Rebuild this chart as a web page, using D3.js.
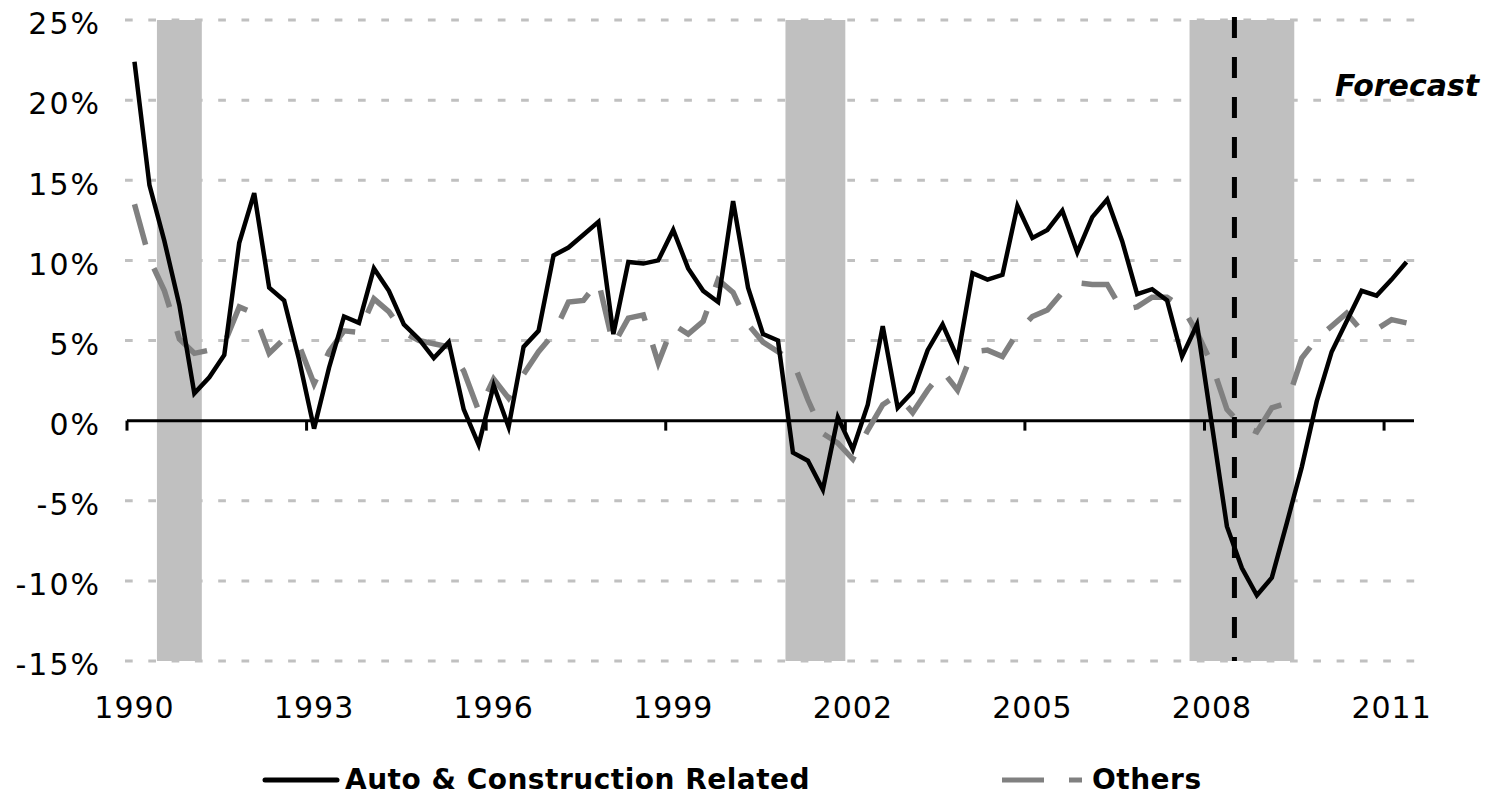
<!DOCTYPE html>
<html>
<head>
<meta charset="utf-8">
<script src="https://cdn.jsdelivr.net/npm/d3@7"></script>
<style>
  body { margin: 0; background: #fff; }
  svg { display: block; }
  text { font-family: "DejaVu Sans", sans-serif; fill: #000; }
</style>
</head>
<body>
<svg id="chart" width="1510" height="796"></svg>
<script>
// ---------------- data ----------------
const startYear = 1990;
const quarterCount = 86; // 1990Q1 .. 2011Q2
const quarters = d3.range(quarterCount).map(i => `${startYear + Math.floor(i / 4)}Q${(i % 4) + 1}`);

const autoConstruction = [
  22.4, 14.7, 11.2, 7.2,
  1.7, 2.7, 4.1, 11.1,
  14.2, 8.3, 7.5, 3.8,
  -0.5, 3.3, 6.5, 6.1,
  9.5, 8.1, 6.0, 5.1,
  3.9, 4.9, 0.7, -1.5,
  2.2, -0.4, 4.6, 5.6,
  10.3, 10.8, 11.6, 12.4,
  5.4, 9.9, 9.8, 10.0,
  11.9, 9.5, 8.1, 7.4,
  13.7, 8.3, 5.4, 5.0,
  -2.0, -2.5, -4.3, 0.2,
  -1.8, 1.0, 5.9, 0.8,
  1.8, 4.4, 6.0, 3.9,
  9.2, 8.8, 9.1, 13.4,
  11.4, 11.9, 13.1, 10.5,
  12.7, 13.8, 11.2, 7.9,
  8.2, 7.5, 4.0, 6.0,
  -0.3, -6.6, -9.2, -10.9,
  -9.8, -6.4, -2.9, 1.2,
  4.3, 6.2, 8.1, 7.8,
  8.8, 9.9
];

const others = [
  13.5, 10.1, 8.1, 5.1,
  4.2, 4.4, 4.8, 7.1,
  6.7, 4.2, 5.1, 4.7,
  2.3, 4.3, 5.6, 5.5,
  7.6, 6.8, 5.5, 5.0,
  4.8, 4.6, 3.1, 0.6,
  2.6, 1.4, 2.9, 4.3,
  5.4, 7.4, 7.5, 8.7,
  4.7, 6.4, 6.6, 3.6,
  6.0, 5.4, 6.2, 8.8,
  8.0, 6.0, 4.9, 4.3,
  3.7, 1.3, -0.8, -1.4,
  -2.4, -0.6, 1.0, 1.6,
  0.5, 1.9, 3.1, 1.9,
  4.3, 4.4, 4.0, 5.5,
  6.5, 6.9, 8.0, 8.6,
  8.5, 8.5, 6.9, 7.1,
  7.7, 7.7, 7.1, 5.5,
  3.5, 0.7, -0.3, -0.7,
  0.8, 1.1, 3.9, 5.1,
  5.9, 6.7, 5.6, 5.7,
  6.3, 6.1
];

const seriesNames = ["Auto & Construction Related", "Others"];
const yTicks = [-15, -10, -5, 0, 5, 10, 15, 20, 25];
const xTickYears = [1990, 1993, 1996, 1999, 2002, 2005, 2008, 2011];
const recessions = [["1990Q3", "1991Q1"], ["2001Q1", "2001Q4"], ["2007Q4", "2009Q2"]];
const forecastStart = "2008Q3";
const forecastLabel = "Forecast";

// ---------------- chart ----------------
const svg = d3.select("#chart");
const plotLeft = 127, plotRight = 1414, plotTop = 20, plotBottom = 661;

const x = d3.scaleBand().domain(quarters).range([plotLeft, plotRight]).padding(0);
const y = d3.scaleLinear().domain([-15, 25]).range([plotBottom, plotTop]);
const cx = q => x(q) + x.bandwidth() / 2;

// gridlines
svg.append("g").selectAll("line")
  .data(yTicks.filter(v => v !== 0))
  .join("line")
  .attr("x1", 125).attr("x2", 1415)
  .attr("y1", d => y(d)).attr("y2", d => y(d))
  .attr("stroke", "#c0c0c0")
  .attr("stroke-width", 3)
  .attr("stroke-dasharray", "7.7,15.6");

// recession shading
svg.append("g").selectAll("rect")
  .data(recessions)
  .join("rect")
  .attr("x", d => x(d[0]))
  .attr("width", d => x(d[1]) + x.bandwidth() - x(d[0]))
  .attr("y", y(25))
  .attr("height", y(-15) - y(25))
  .attr("fill", "#c0c0c0");

// y axis labels
const yAxis = d3.axisLeft(y).tickValues(yTicks).tickFormat(d => d + "%").tickSize(0).tickPadding(0);
const gy = svg.append("g").attr("transform", "translate(101,0)").call(yAxis);
gy.select(".domain").remove();
gy.selectAll("text").attr("font-size", 30).attr("dy", "0.46em")
  .attr("letter-spacing", 2)
  .style("font-family", "'DejaVu Sans', sans-serif").attr("fill", "#000");

// x axis labels (centred on the first quarter of each labelled year)
const xAxis = d3.axisBottom(x)
  .tickValues(xTickYears.map(yr => `${yr}Q1`))
  .tickFormat(d => d.slice(0, 4))
  .tickSize(0).tickPadding(36);
const gx = svg.append("g").attr("transform", `translate(0,${plotBottom})`).call(xAxis);
gx.select(".domain").remove();
gx.selectAll("text").attr("font-size", 30).attr("letter-spacing", 1)
  .style("font-family", "'DejaVu Sans', sans-serif").attr("fill", "#000");

// zero line and year ticks
const y0 = y(0);
svg.append("line")
  .attr("x1", plotLeft).attr("x2", plotRight)
  .attr("y1", y0).attr("y2", y0)
  .attr("stroke", "#000").attr("stroke-width", 3);
svg.append("g").selectAll("line")
  .data(xTickYears)
  .join("line")
  .attr("x1", d => x(`${d}Q1`)).attr("x2", d => x(`${d}Q1`))
  .attr("y1", y0).attr("y2", y0 + 10)
  .attr("stroke", "#000").attr("stroke-width", 3);

// forecast divider
const fx = x(forecastStart);
svg.append("line")
  .attr("x1", fx).attr("x2", fx)
  .attr("y1", 17).attr("y2", y(-15))
  .attr("stroke", "#000").attr("stroke-width", 5)
  .attr("stroke-dasharray", "21,19");

// series
const line = d3.line().x((d, i) => cx(quarters[i])).y(d => y(d));
svg.append("path").datum(others)
  .attr("d", line).attr("fill", "none")
  .attr("stroke", "#808080").attr("stroke-width", 5.5)
  .attr("stroke-dasharray", "42,25");
svg.append("path").datum(autoConstruction)
  .attr("d", line).attr("fill", "none")
  .attr("stroke", "#000").attr("stroke-width", 4.5)
  .attr("stroke-linejoin", "miter");

// forecast label
svg.append("text")
  .attr("x", 1335).attr("y", 96)
  .attr("font-size", 30).attr("font-weight", "bold").attr("font-style", "italic")
  .text(forecastLabel);

// legend
const legend = svg.append("g");
legend.append("line")
  .attr("x1", 265).attr("x2", 337).attr("y1", 780).attr("y2", 780)
  .attr("stroke", "#000").attr("stroke-width", 5).attr("stroke-linecap", "round");
legend.append("text")
  .attr("x", 345).attr("y", 789)
  .attr("font-size", 28).attr("font-weight", "bold")
  .attr("letter-spacing", 0.5)
  .text(seriesNames[0]);
legend.append("line")
  .attr("x1", 1002).attr("x2", 1082).attr("y1", 780).attr("y2", 780)
  .attr("stroke", "#808080").attr("stroke-width", 5)
  .attr("stroke-dasharray", "42,25");
legend.append("text")
  .attr("x", 1092).attr("y", 789)
  .attr("font-size", 28).attr("font-weight", "bold")
  .attr("letter-spacing", 0.5)
  .text(seriesNames[1]);
</script>
</body>
</html>
